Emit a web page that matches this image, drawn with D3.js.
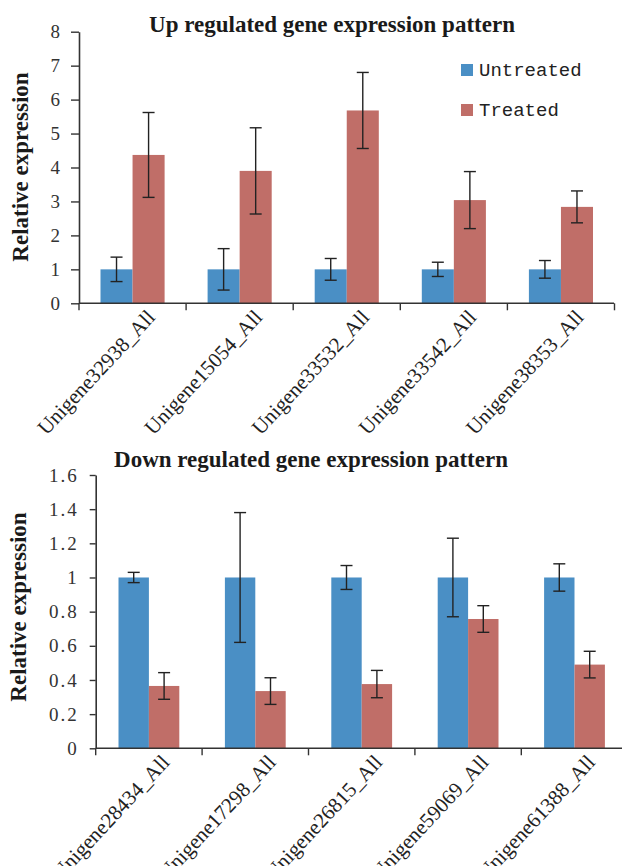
<!DOCTYPE html>
<html><head><meta charset="utf-8">
<script src="https://cdn.jsdelivr.net/npm/d3@7"></script>
<style>body{margin:0;background:#fff}svg{display:block}
.serif{font-family:"Liberation Serif","Times New Roman",serif}
.mono{font-family:"Liberation Mono","Courier New",monospace}
</style>
</head><body><svg id="c" width="622" height="866"></svg>
<script>
const seriesNames = ["Untreated", "Treated"];
const upGenes = ["Unigene32938_All","Unigene15054_All","Unigene33532_All","Unigene33542_All","Unigene38353_All"];
const upUntreated = [1, 1, 1, 1, 1];
const upUntreatedErr = [0.36, 0.61, 0.32, 0.21, 0.26];
const upTreated = [4.37, 3.9, 5.68, 3.04, 2.84];
const upTreatedErr = [1.25, 1.27, 1.12, 0.84, 0.47];
const upTicks = [0,1,2,3,4,5,6,7,8];

const downGenes = ["Unigene28434_All","Unigene17298_All","Unigene26815_All","Unigene59069_All","Unigene61388_All"];
const downUntreated = [1, 1, 1, 1, 1];
const downUntreatedErr = [0.03, 0.38, 0.07, 0.23, 0.08];
const downTreated = [0.365, 0.335, 0.376, 0.757, 0.49];
const downTreatedErr = [0.078, 0.078, 0.08, 0.078, 0.078];
const downTicks = [0,0.2,0.4,0.6,0.8,1,1.2,1.4,1.6];

const colors = ["#4A8FC5", "#C06E68"];
const svg = d3.select("#c");

function drawChart(o) {
  const g = svg.append("g");
  const x0 = d3.scaleBand().domain(o.genes).range([o.left, o.left + o.catW * o.genes.length]).padding(0);
  const x1 = d3.scaleBand().domain(seriesNames).range([o.gap, x0.bandwidth() - o.gap]).padding(0);
  const y = d3.scaleLinear().domain([0, o.ticks[o.ticks.length - 1]]).range([o.bottom, o.top]);

  const rows = o.genes.map((gname, i) => ({gene: gname, vals: [
    {s: seriesNames[0], v: o.u[i], e: o.ue[i]},
    {s: seriesNames[1], v: o.t[i], e: o.te[i]}]}));

  const grp = g.selectAll("g.grp").data(rows).join("g")
    .attr("transform", d => `translate(${x0(d.gene)},0)`);
  grp.selectAll("rect").data(d => d.vals).join("rect")
    .attr("x", d => x1(d.s)).attr("width", x1.bandwidth())
    .attr("y", d => y(d.v)).attr("height", d => y(0) - y(d.v))
    .attr("fill", (d, i) => colors[i]);
  const eb = grp.selectAll("g.eb").data(d => d.vals).join("g")
    .attr("stroke", "#222").attr("stroke-width", 1.4);
  const cx = d => x1(d.s) + x1.bandwidth()/2;
  eb.append("line").attr("x1", cx).attr("x2", cx)
    .attr("y1", d => y(d.v + d.e)).attr("y2", d => y(d.v - d.e));
  eb.append("line").attr("x1", d => cx(d) - 6).attr("x2", d => cx(d) + 6)
    .attr("y1", d => y(d.v + d.e)).attr("y2", d => y(d.v + d.e));
  eb.append("line").attr("x1", d => cx(d) - 6).attr("x2", d => cx(d) + 6)
    .attr("y1", d => y(d.v - d.e)).attr("y2", d => y(d.v - d.e));

  // y axis
  const ya = g.append("g").attr("transform", `translate(${o.left},0)`)
    .call(d3.axisLeft(y).tickValues(o.ticks).tickSize(o.tickLen).tickPadding(11).tickSizeOuter(0).tickFormat(o.fmt));
  ya.attr("font-family", null).attr("font-size", null);
  ya.select(".domain").attr("stroke", "#333").attr("stroke-width", 1.6);
  ya.selectAll(".tick line").attr("stroke", "#333").attr("stroke-width", 1.4);
  ya.selectAll(".tick text").attr("class", "serif").style("font-size", "19px")
    .attr("fill", "#333").attr("letter-spacing", o.ls || 0);

  // x axis line + boundary ticks
  g.append("line").attr("x1", o.left).attr("x2", o.xEnd).attr("y1", o.bottom).attr("y2", o.bottom)
    .attr("stroke", "#333").attr("stroke-width", 1.6);
  const bounds = o.genes.map(d => x0(d)).concat([x0.range()[1]]);
  g.selectAll("line.bt").data(bounds).join("line")
    .attr("x1", d => d).attr("x2", d => d).attr("y1", o.bottom).attr("y2", o.bottom + 7)
    .attr("stroke", "#333").attr("stroke-width", 1.4);
  g.selectAll("text.xl").data(o.genes).join("text")
    .attr("class", "serif")
    .attr("transform", d => `translate(${x0(d) + x0.bandwidth()/2 + o.lblDx},${o.bottom + o.lblDy}) rotate(-47)`)
    .attr("text-anchor", "end").attr("dy", "0.7em")
    .style("font-size", "21px").attr("fill", "#222")
    .text(d => d);

  // title
  g.append("text").attr("class", "serif").attr("x", o.titleX).attr("y", o.titleY).attr("text-anchor", "middle")
    .style("font-weight", "bold").style("font-size", "23px").attr("fill", "#1a1a1a")
    .text(o.title);
  // y label
  g.append("text").attr("class", "serif").attr("transform", `translate(${o.ylabX},${o.ylabY}) rotate(-90)`).attr("text-anchor", "middle")
    .style("font-weight", "bold").style("font-size", "23px").attr("fill", "#1a1a1a")
    .text("Relative expression");
  return g;
}

drawChart({genes: upGenes, u: upUntreated, ue: upUntreatedErr, t: upTreated, te: upTreatedErr,
  ticks: upTicks, fmt: d3.format("d"), left: 79, catW: 107.1, gap: 21.5, top: 31.7, bottom: 303.3, xEnd: 614,
  tickLen: 8, lblDx: 13, lblDy: 5, title: "Up regulated gene expression pattern", titleX: 332, titleY: 32,
  ylabX: 28, ylabY: 167});

drawChart({genes: downGenes, u: downUntreated, ue: downUntreatedErr, t: downTreated, te: downTreatedErr,
  ticks: downTicks, fmt: d => d === 0 || d === 1 ? String(d) : d3.format(".1f")(d), left: 95.7, catW: 106.4, gap: 22.8,
  top: 475, bottom: 748.3, xEnd: 622, tickLen: 6, ls: 2, lblDx: 11, lblDy: 5,
  title: "Down regulated gene expression pattern", titleX: 311, titleY: 467, ylabX: 26, ylabY: 607});

// legend
const legend = svg.append("g");
const lg = legend.selectAll("g").data(seriesNames).join("g")
  .attr("transform", (d, i) => `translate(461,${64 + i * 40})`);
lg.append("rect").attr("width", 12).attr("height", 12).attr("fill", (d, i) => colors[i]);
lg.append("text").attr("class", "mono").attr("x", 18).attr("y", 12).style("font-size", "19px")
  .attr("fill", "#222").text(d => d);
</script></body></html>
